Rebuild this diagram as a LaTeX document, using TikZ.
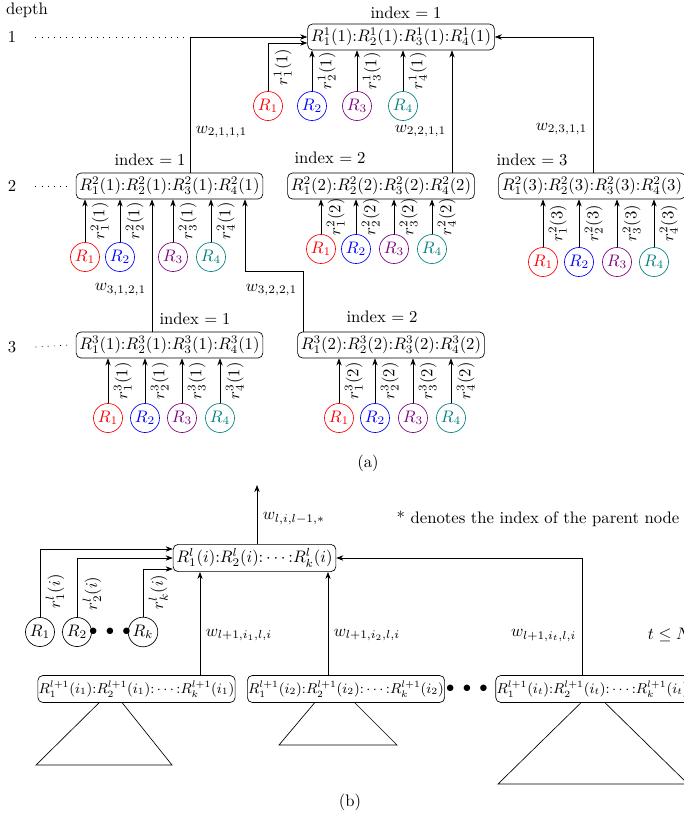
\documentclass[tikz,border=0pt]{standalone}
\usepackage{amsmath,amssymb,amsfonts}
\usepackage{xcolor}
\usepackage{tikz}
\usetikzlibrary{arrows.meta,calc}

\colorlet{rc1}{red}
\colorlet{rc2}{blue}
\colorlet{rc3}{violet}
\colorlet{rc4}{teal}
\newcommand{\sub}[1]{\scalebox{0.955}{$#1$}}

\begin{document}
\begin{tikzpicture}[x=0.6pt, y=-0.6pt, >={Stealth[length=1.5mm]},
  box/.style={draw, rounded corners=3pt, fill=white, inner xsep=2pt, inner ysep=2.5pt},
  cbox/.style={draw, rounded corners=3pt, fill=white, font=\small, inner xsep=0.5pt, inner ysep=3pt},
  rn/.style={draw, circle, inner sep=1pt},
  dots/.style={dash pattern=on 0.6pt off 3.1pt}]
\useasboundingbox (0,0) rectangle (684,819);
\clip (0,0) rectangle (684,819);
% (a) depth column
\node (dep) at (27,10) {depth};
\node (d1) at (12,37) {1};
\node (d2) at (12,186) {2};
\node (d3) at (12,347) {3};
% tree nodes
\node[box] (n11) at (401,37) {$R_1^1(1){:}R_2^1(1){:}R_3^1(1){:}R_4^1(1)$};
\node[box] (n21) at (169.5,186) {$R_1^2(1){:}R_2^2(1){:}R_3^2(1){:}R_4^2(1)$};
\node[box] (n22) at (381,186) {$R_1^2(2){:}R_2^2(2){:}R_3^2(2){:}R_4^2(2)$};
\node[box] (n23) at (592,186) {$R_1^2(3){:}R_2^2(3){:}R_3^2(3){:}R_4^2(3)$};
\node[box] (n31) at (169.5,345) {$R_1^3(1){:}R_2^3(1){:}R_3^3(1){:}R_4^3(1)$};
\node[box] (n32) at (391,345) {$R_1^3(2){:}R_2^3(2){:}R_3^3(2){:}R_4^3(2)$};
\node (i11) at (406,13) {index $=1$};
\node (i21) at (150,160) {index $=1$};
\node (i22) at (330,158) {index $=2$};
\node (i23) at (532,160) {index $=3$};
\node (i31) at (195,319) {index $=1$};
\node (i32) at (382,317) {index $=2$};
\coordinate (t1) at (190,37);
\draw[dots] ([xshift=8pt]d1.east) -- (t1);
\draw[dots] ([xshift=8pt]d2.east) -- ([xshift=-4pt]n21.west);
\draw[dots] ([xshift=8pt]d3.east) -- ([xshift=-4pt]n31.west);
% weights between depths
\draw[->] (n21.north -| t1) -- node[pos=0.3, right] {$w_{2,1,1,1}$} (t1) -- (n11.west);
\draw[->] (n22.north -| 452,0) -- node[pos=0.34, left] {$w_{2,2,1,1}$} (n11.south -| 452,0);
\draw[->] (n23.north -| 593,0) |- node[pos=0.16, left] {$w_{2,3,1,1}$} (n11.east);
\draw[->] (n31.north -| 152,0) -- node[pos=0.32, left] {$w_{3,1,2,1}$} (n21.south -| 152,0);
\draw[->] (n32.north -| 303,0) -- node[pos=0.69, left] {$w_{3,2,2,1}$} (303,271) -| (n21.south -| 245,0);
% rewards
\foreach \j/\x in {1/268,2/312,3/357,4/403}
  \node[rn, draw=rc\j, text=rc\j] (a\j) at (\x,106) {$R_\j$};
\draw[->] (a1) |- node[pos=0.25, sloped, below] {$r_1^1(1)$} (n11.west |- 0,43);
\foreach \j in {2,3,4}
  \draw[->] (a\j) -- node[sloped, below] {$r_\j^1(1)$} (a\j |- n11.south);
\foreach \j/\x in {1/85,2/120,3/173,4/211}{
  \node[rn, draw=rc\j, text=rc\j] (b\j) at (\x,257) {$R_\j$};
  \draw[->] (b\j) -- node[sloped, below] {$r_\j^2(1)$} (b\j |- n21.south);}
\foreach \j/\x in {1/321,2/356,3/394,4/432}{
  \node[rn, draw=rc\j, text=rc\j] (c\j) at (\x,249) {$R_\j$};
  \draw[->] (c\j) -- node[sloped, below] {$r_\j^2(2)$} (c\j |- n22.south);}
\foreach \j/\x in {1/543,2/579,3/617,4/654}{
  \node[rn, draw=rc\j, text=rc\j] (e\j) at (\x,262) {$R_\j$};
  \draw[->] (e\j) -- node[sloped, below] {$r_\j^2(3)$} (e\j |- n23.south);}
\foreach \j/\x in {1/108,2/145,3/182,4/220}{
  \node[rn, draw=rc\j, text=rc\j] (f\j) at (\x,418) {$R_\j$};
  \draw[->] (f\j) -- node[sloped, below] {$r_\j^3(1)$} (f\j |- n31.south);}
\foreach \j/\x in {1/339,2/375,3/413,4/451}{
  \node[rn, draw=rc\j, text=rc\j] (g\j) at (\x,418) {$R_\j$};
  \draw[->] (g\j) -- node[sloped, below] {$r_\j^3(2)$} (g\j |- n32.south);}
\node (capa) at (368,463) {(a)};
% (b) generic node
\node[box] (m) at (254.5,558) {$R_1^l(i){:}R_2^l(i){:}\cdots{:}R_k^l(i)$};
\coordinate (up) at (257,485);
\draw[->] (m.north -| up) -- node[pos=0.43, right] {$w_{l,i,l-1,*}$} (up);
\node (note) at (538,519) {* denotes the index of the parent node};
\node[rn] (q1) at (40,632) {$R_1$};
\node[rn] (q2) at (77,632) {$R_2$};
\node[rn] (qk) at (143,632) {$R_k$};
\node (qd) at (110,632) {$\bullet\;\bullet\;\bullet$};
\draw[->] (q1) |- node[pos=0.19, sloped, below] {$r_1^l(i)$} (m.west |- 0,549);
\draw[->] (q2) |- node[pos=0.2, sloped, below] {$r_2^l(i)$} (m.west);
\draw[->] (qk) |- node[pos=0.26, sloped, below] {$r_k^l(i)$} (m.west |- 0,569);
% subtrees
\draw (112,690) -- (36,765) -- (172,765) -- cycle;
\draw (333,681) -- (279,745) -- (397,745) -- cycle;
\draw (593,691) -- (498,784) -- (688,784) -- cycle;
\node[cbox] (s1) at (136.5,689) {\sub{R_1^{l+1}(i_1){:}R_2^{l+1}(i_1){:}\cdots{:}R_k^{l+1}(i_1)}};
\node[cbox] (s2) at (346,689) {\sub{R_1^{l+1}(i_2){:}R_2^{l+1}(i_2){:}\cdots{:}R_k^{l+1}(i_2)}};
\node[cbox] (s3) at (592.5,689) {\sub{R_1^{l+1}(i_t){:}R_2^{l+1}(i_t){:}\cdots{:}R_k^{l+1}(i_t)}};
\node (sd) at (467,689) {$\bullet\;\bullet\;\bullet$};
\draw[->] (s1.north -| 200,0) -- node[pos=0.39, right] {$w_{l+1,i_1,l,i}$} (m.south -| 200,0);
\draw[->] (s2.north -| 328,0) -- node[pos=0.39, right] {$w_{l+1,i_2,l,i}$} (m.south -| 328,0);
\draw[->] (s3.north -| 582,0) |- node[pos=0.17, left] {$w_{l+1,i_t,l,i}$} (m.east);
\node[anchor=west] (tn) at (642,635) {$t\leq N$};
\node (capb) at (350,802) {(b)};
\end{tikzpicture}
\end{document}
